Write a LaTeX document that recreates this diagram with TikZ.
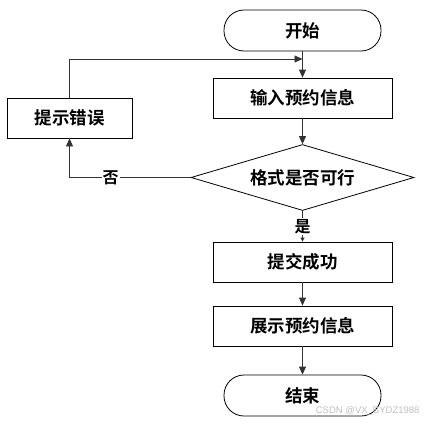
\documentclass[tikz,border=0pt]{standalone}
\usepackage{fontspec}
\setmainfont{Liberation Sans}
\newfontfamily\cjk{Noto Sans CJK SC}[BoldFont={* Bold}]
\usetikzlibrary{arrows.meta,shapes.geometric}
\begin{document}
\begin{tikzpicture}[x=1pt,y=-1pt,
  base/.style={draw=black,line width=0.8pt,font=\cjk\bfseries\fontsize{17.5}{20}\selectfont,inner sep=0pt},
  terminal/.style={base,rounded corners=20pt,minimum width=157pt,minimum height=41pt},
  proc/.style={base,minimum width=179pt,minimum height=40pt},
  decision/.style={base,diamond,aspect=3.43,minimum width=223pt,minimum height=66pt},
  conn/.style={draw=black!80,line width=0.8pt},
  arr/.style={conn,-{Triangle[length=8pt,width=7pt]}},
  lbl/.style={font=\cjk\bfseries\fontsize{16}{18}\selectfont,fill=white,inner sep=1pt}]
\useasboundingbox (0,0) rectangle (426,424);
\node[terminal] (start) at (302.5,30.5) {开始};
\node[proc] (input) at (302.5,98) {输入预约信息};
\node[proc,minimum width=125pt] (err) at (69.5,118) {提示错误};
\node[decision] (dec) at (302.5,177.5) {格式是否可行};
\node[proc] (ok) at (302.5,262) {提交成功};
\node[proc] (show) at (302.5,326) {展示预约信息};
\node[terminal] (end) at (302.5,395.5) {结束};
\coordinate (join) at (302.5,59);
\draw[arr] (start) -- (input);
\draw[arr] (err.north) |- (join);
\draw[arr] (input) -- (dec);
\draw[conn] (dec.west) -| node[lbl,pos=0.33] (no) {否} (err.south);
\draw[arr] (err.south) ++(0,10) -- (err.south);
\draw[arr,-{Triangle[length=4pt,width=4pt]}] (dec.south) -- node[lbl] (yes) {是} (ok.north);
\draw[arr] (ok) -- (show);
\draw[arr] (show) -- (end);
\node[anchor=east,text=black!25,font=\fontsize{9.5}{11}\selectfont] (wm) at (423,411) {CSDN @VX\_BYDZ1988};
\end{tikzpicture}
\end{document}
